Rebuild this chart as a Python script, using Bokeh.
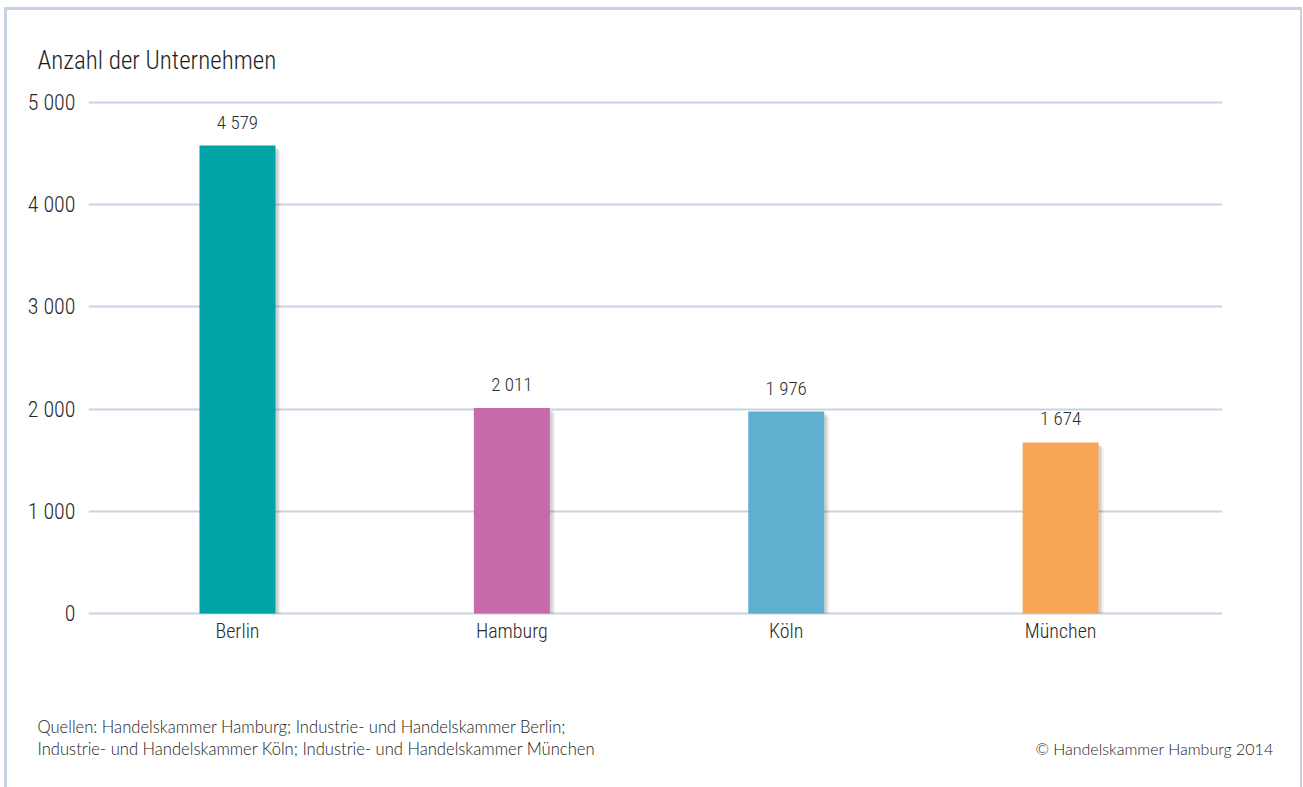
from bokeh.plotting import figure
from bokeh.layouts import column
from bokeh.models import ColumnDataSource, FixedTicker
from bokeh.core.properties import value
from bokeh.embed import file_html
from bokeh.resources import INLINE

cities = ["Berlin", "Hamburg", "Köln", "München"]
counts = [4579, 2011, 1976, 1674]
count_labels = ["4 579", "2 011", "1 976", "1 674"]
colors = ["#00a4a6", "#c66aaa", "#5fafd0", "#f6a656"]
y_ticks = [0, 1000, 2000, 3000, 4000, 5000]
y_tick_labels = ["0", "1 000", "2 000", "3 000", "4 000", "5 000"]
title_text = "Anzahl der Unternehmen"
source_lines = ["Quellen: Handelskammer Hamburg; Industrie- und Handelskammer Berlin;",
                "Industrie- und Handelskammer Köln; Industrie- und Handelskammer München"]
copyright_text = "© Handelskammer Hamburg 2014"

NARROW = "'Roboto Condensed Light', 'Roboto Condensed', 'Liberation Sans', sans-serif"
FOOT = "'Lato Light', Lato, 'Open Sans', sans-serif"
FRAME = "#c5d3e3"

xs = list(range(len(cities)))
px_per_unit = 274.33
src = ColumnDataSource(dict(x=xs, top=counts, color=colors, lab=count_labels))
shadow1 = ColumnDataSource(dict(x=[v + 3 / px_per_unit for v in xs], top=[c - 30 for c in counts]))
shadow2 = ColumnDataSource(dict(x=[v + 5 / px_per_unit for v in xs], top=[c - 50 for c in counts]))

W = 1293
p = figure(width=W, height=650, output_backend="svg", toolbar_location=None,
           x_range=(-0.543, 3.590), y_range=(-19.6, 5068.5),
           min_border_left=81, min_border_right=78, min_border_top=85, min_border_bottom=45)
p.frame_align = False
p.outline_line_color = None
p.border_fill_color = "white"

p.title.text = title_text
p.title.align = "left"
p.title.offset = -51
p.title.text_font = NARROW
p.title.text_font_size = "25px"
p.title.text_font_style = "normal"
p.title.text_color = "#1e1e1e"
p.title.standoff = 42

bw = 76 / px_per_unit
p.vbar(x="x", top="top", bottom=0, width=bw, source=shadow2, fill_color="#000000", fill_alpha=0.06, line_color=None)
p.vbar(x="x", top="top", bottom=0, width=bw, source=shadow1, fill_color="#000000", fill_alpha=0.12, line_color=None)
p.vbar(x="x", top="top", bottom=0, width=bw, source=src, fill_color="color", line_color=None)
p.text(x="x", y="top", text="lab", source=src, text_align="center", text_baseline="bottom",
       y_offset=-12, text_font_size="19px", text_color="#2e2e2e", text_font=value(NARROW))

p.xgrid.grid_line_color = None
p.ygrid.grid_line_color = FRAME
p.ygrid.grid_line_width = 1.8
p.ygrid.ticker = FixedTicker(ticks=y_ticks)

p.yaxis.ticker = FixedTicker(ticks=y_ticks)
p.yaxis.major_label_overrides = {t: l for t, l in zip(y_ticks, y_tick_labels)}
p.xaxis.ticker = FixedTicker(ticks=xs)
p.xaxis.major_label_overrides = {i: c for i, c in enumerate(cities)}
for ax in (p.xaxis, p.yaxis):
    ax.axis_line_color = None
    ax.major_tick_line_color = None
    ax.minor_tick_line_color = None
    ax.major_label_text_font = NARROW
    ax.major_label_text_color = "#2a2a2a"
p.xaxis.major_label_text_font_size = "20px"
p.yaxis.major_label_text_font_size = "22px"
p.yaxis.major_label_standoff = 7
p.xaxis.major_label_standoff = -3

# footer
FH = 127
f = figure(width=W, height=FH, output_backend="svg", toolbar_location=None,
           x_range=(0, W), y_range=(FH, 0), min_border=0)
f.frame_align = False
f.axis.visible = False
f.grid.visible = False
f.outline_line_color = None
f.text(x=[30, 30], y=[66, 88], text=source_lines, text_baseline="middle", text_align="left",
       text_font=value(FOOT), text_font_size="16.6px", text_color="#222222")
f.text(x=[1266], y=[88], text=[copyright_text], text_baseline="middle", text_align="right",
       text_font=value(FOOT), text_font_size="16px", text_color="#222222")

layout = column(p, f, spacing=0,
                styles={"margin-left": "4px", "margin-top": "7px",
                        "border-top": "3px solid " + FRAME, "border-left": "3px solid " + FRAME,
                        "border-right": "2px solid " + FRAME})

open("out.html", "w").write(file_html(layout, INLINE))
